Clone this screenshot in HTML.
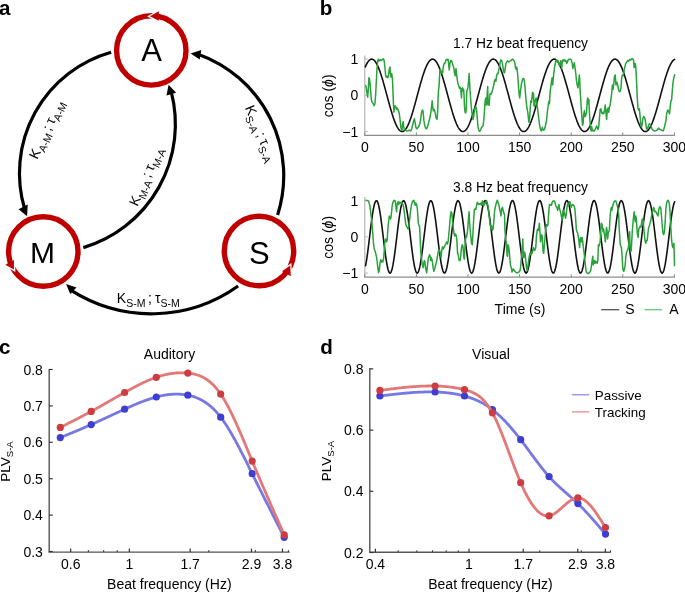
<!DOCTYPE html>
<html><head><meta charset="utf-8"><title>figure</title>
<style>
html,body{margin:0;padding:0;background:#fff;width:685px;height:592px;overflow:hidden}
svg{display:block;will-change:transform}
text{font-family:"Liberation Sans",sans-serif;fill:#000}
</style></head><body>
<svg width="685" height="592" viewBox="0 0 685 592">
<text x="-1.1" y="14.5" font-size="20.6" font-weight="bold">a</text>
<text x="319.7" y="14.5" font-size="20.6" font-weight="bold">b</text>
<text x="-0.9" y="353.7" font-size="20.6" font-weight="bold">c</text>
<text x="320.3" y="353.7" font-size="20.6" font-weight="bold">d</text>
<circle cx="151.3" cy="50.4" r="34.7" fill="none" stroke="#c00000" stroke-width="5.4"/>
<circle cx="43.3" cy="251.5" r="34.7" fill="none" stroke="#c00000" stroke-width="5.4"/>
<circle cx="259.0" cy="251.0" r="34.7" fill="none" stroke="#c00000" stroke-width="5.4"/>
<polygon points="147.10,16.41 156.00,11.31 156.00,20.81" fill="#fff"/>
<polygon points="149.9,16.3 158.8,11.2 158.8,20.7" fill="#c00000"/>
<polygon points="15.33,272.01 6.73,267.11 15.33,262.41" fill="#fff"/>
<polygon points="13.9,269.6 5.3,264.7 13.9,260.0" fill="#c00000"/>
<polygon points="291.36,263.05 283.26,268.75 291.96,273.75" fill="#fff"/>
<polygon points="290.2,265.6 282.1,271.3 290.8,276.3" fill="#c00000"/>
<text x="151.5" y="60.7" font-size="31" text-anchor="middle">A</text>
<text x="42.5" y="263.3" font-size="30" text-anchor="middle">M</text>
<text x="259.4" y="263.6" font-size="31" text-anchor="middle">S</text>
<path d="M111.10,52.23 A125.65,125.65 0 0 0 24.69,209.06" fill="none" stroke="#000" stroke-width="3.2"/>
<polygon points="27.1,216.2 18.6,209.2 27.7,204.6" fill="#000"/>
<path d="M277.62,214.98 A129.10,129.10 0 0 0 198.13,54.16" fill="none" stroke="#000" stroke-width="3.2"/>
<polygon points="190.6,53.4 201.3,50.0 199.7,59.6" fill="#000"/>
<path d="M238.13,285.99 A149.29,149.29 0 0 1 70.82,290.21" fill="none" stroke="#000" stroke-width="3.2"/>
<polygon points="66.1,284.1 76.5,287.4 70.2,294.1" fill="#000"/>
<path d="M83.33,247.60 A128.75,128.75 0 0 0 171.20,91.62" fill="none" stroke="#000" stroke-width="3.2"/>
<polygon points="168.6,84.8 166.5,95.5 176.1,92.7" fill="#000"/>
<text transform="translate(37.3,159.9) rotate(-65)" font-size="14">K<tspan font-size="10.5" dy="4.0">A-M</tspan><tspan dy="-4.0" dx="-1.3"> ; </tspan><tspan dx="-0.7">τ</tspan><tspan font-size="10.5" dy="4.0">A-M</tspan></text>
<text transform="translate(137.5,207.0) rotate(-66.5)" font-size="14">K<tspan font-size="10.5" dy="4.0">M-A</tspan><tspan dy="-4.0" dx="-1.3"> ; </tspan><tspan dx="-0.7">τ</tspan><tspan font-size="10.5" dy="4.0">M-A</tspan></text>
<text transform="translate(244.8,107.7) rotate(67)" font-size="14">K<tspan font-size="10.5" dy="4.0">S-A</tspan><tspan dy="-4.0" dx="-1.3"> ; </tspan><tspan dx="-0.7">τ</tspan><tspan font-size="10.5" dy="4.0">S-A</tspan></text>
<text transform="translate(116.8,303.0) rotate(0)" font-size="14">K<tspan font-size="10.5" dy="4.0">S-M</tspan><tspan dy="-4.0" dx="-1.3"> ; </tspan><tspan dx="-0.7">τ</tspan><tspan font-size="10.5" dy="4.0">S-M</tspan></text>
<line x1="364.8" y1="55.5" x2="364.8" y2="135.3" stroke="#b4b4b4" stroke-width="1.2"/>
<line x1="364.2" y1="135.3" x2="674.9" y2="135.3" stroke="#8c8c8c" stroke-width="1.2"/>
<line x1="364.80" y1="135.3" x2="364.80" y2="132.3" stroke="#8c8c8c" stroke-width="1"/>
<text x="364.80" y="151.70" font-size="14" text-anchor="middle">0</text>
<line x1="416.40" y1="135.3" x2="416.40" y2="132.3" stroke="#8c8c8c" stroke-width="1"/>
<text x="416.40" y="151.70" font-size="14" text-anchor="middle">50</text>
<line x1="468.00" y1="135.3" x2="468.00" y2="132.3" stroke="#8c8c8c" stroke-width="1"/>
<text x="468.00" y="151.70" font-size="14" text-anchor="middle">100</text>
<line x1="519.60" y1="135.3" x2="519.60" y2="132.3" stroke="#8c8c8c" stroke-width="1"/>
<text x="519.60" y="151.70" font-size="14" text-anchor="middle">150</text>
<line x1="571.20" y1="135.3" x2="571.20" y2="132.3" stroke="#8c8c8c" stroke-width="1"/>
<text x="571.20" y="151.70" font-size="14" text-anchor="middle">200</text>
<line x1="622.80" y1="135.3" x2="622.80" y2="132.3" stroke="#8c8c8c" stroke-width="1"/>
<text x="622.80" y="151.70" font-size="14" text-anchor="middle">250</text>
<line x1="674.40" y1="135.3" x2="674.40" y2="132.3" stroke="#8c8c8c" stroke-width="1"/>
<text x="674.40" y="151.70" font-size="14" text-anchor="middle">300</text>
<line x1="364.8" y1="59.15" x2="367.8" y2="59.15" stroke="#b4b4b4" stroke-width="1"/>
<text x="358.3" y="64.15" font-size="14" text-anchor="end">1</text>
<line x1="364.8" y1="95.35" x2="367.8" y2="95.35" stroke="#b4b4b4" stroke-width="1"/>
<text x="358.3" y="100.35" font-size="14" text-anchor="end">0</text>
<line x1="364.8" y1="131.55" x2="367.8" y2="131.55" stroke="#b4b4b4" stroke-width="1"/>
<text x="358.3" y="136.55" font-size="14" text-anchor="end">−1</text>
<text x="520.5" y="48.4" font-size="13.8" text-anchor="middle">1.7 Hz beat frequency</text>
<text transform="translate(333.3,95.85) rotate(-90)" font-size="14" text-anchor="middle">cos (<tspan font-style="italic">ϕ</tspan>)</text>
<path d="M365.30,66.83 L365.74,65.84 L366.18,64.91 L366.63,64.05 L367.07,63.25 L367.51,62.52 L367.95,61.85 L368.40,61.26 L368.84,60.74 L369.28,60.29 L369.72,59.92 L370.17,59.61 L370.61,59.39 L371.05,59.24 L371.49,59.16 L371.94,59.16 L372.38,59.23 L372.82,59.38 L373.26,59.61 L373.71,59.91 L374.15,60.28 L374.59,60.73 L375.03,61.25 L375.48,61.84 L375.92,62.51 L376.36,63.24 L376.80,64.03 L377.25,64.89 L377.69,65.82 L378.13,66.81 L378.57,67.86 L379.02,68.96 L379.46,70.12 L379.90,71.33 L380.34,72.60 L380.79,73.91 L381.23,75.26 L381.67,76.66 L382.11,78.10 L382.56,79.57 L383.00,81.08 L383.44,82.61 L383.88,84.17 L384.33,85.76 L384.77,87.36 L385.21,88.99 L385.65,90.62 L386.10,92.27 L386.54,93.92 L386.98,95.57 L387.42,97.23 L387.87,98.88 L388.31,100.52 L388.75,102.15 L389.19,103.77 L389.64,105.37 L390.08,106.95 L390.52,108.50 L390.96,110.03 L391.41,111.53 L391.85,112.99 L392.29,114.42 L392.73,115.81 L393.18,117.15 L393.62,118.45 L394.06,119.70 L394.50,120.90 L394.95,122.04 L395.39,123.13 L395.83,124.16 L396.27,125.13 L396.72,126.04 L397.16,126.89 L397.60,127.67 L398.04,128.38 L398.49,129.02 L398.93,129.59 L399.37,130.09 L399.81,130.52 L400.26,130.88 L400.70,131.16 L401.14,131.36 L401.58,131.49 L402.03,131.55 L402.47,131.53 L402.91,131.43 L403.35,131.26 L403.80,131.01 L404.24,130.69 L404.68,130.29 L405.12,129.83 L405.57,129.29 L406.01,128.67 L406.45,127.99 L406.89,127.24 L407.34,126.43 L407.78,125.55 L408.22,124.60 L408.66,123.60 L409.11,122.53 L409.55,121.41 L409.99,120.24 L410.43,119.01 L410.88,117.73 L411.32,116.41 L411.76,115.04 L412.20,113.63 L412.65,112.18 L413.09,110.70 L413.53,109.19 L413.97,107.64 L414.42,106.08 L414.86,104.48 L415.30,102.87 L415.74,101.25 L416.19,99.61 L416.63,97.96 L417.07,96.31 L417.51,94.65 L417.96,93.00 L418.40,91.35 L418.84,89.71 L419.28,88.08 L419.73,86.47 L420.17,84.87 L420.61,83.30 L421.05,81.75 L421.50,80.24 L421.94,78.75 L422.38,77.29 L422.82,75.88 L423.27,74.51 L423.71,73.17 L424.15,71.89 L424.59,70.65 L425.04,69.47 L425.48,68.34 L425.92,67.27 L426.36,66.25 L426.81,65.30 L427.25,64.41 L427.69,63.58 L428.13,62.82 L428.58,62.13 L429.02,61.51 L429.46,60.95 L429.90,60.47 L430.35,60.07 L430.79,59.73 L431.23,59.48 L431.67,59.29 L432.12,59.18 L432.56,59.15 L433.00,59.19 L433.44,59.31 L433.89,59.50 L434.33,59.77 L434.77,60.12 L435.21,60.53 L435.66,61.02 L436.10,61.58 L436.54,62.21 L436.98,62.92 L437.43,63.68 L437.87,64.52 L438.31,65.42 L438.75,66.38 L439.20,67.40 L439.64,68.48 L440.08,69.62 L440.52,70.81 L440.97,72.05 L441.41,73.34 L441.85,74.68 L442.29,76.06 L442.74,77.48 L443.18,78.94 L443.62,80.43 L444.06,81.95 L444.51,83.50 L444.95,85.08 L445.39,86.68 L445.83,88.29 L446.28,89.92 L446.72,91.56 L447.16,93.21 L447.60,94.87 L448.05,96.52 L448.49,98.17 L448.93,99.82 L449.37,101.46 L449.82,103.08 L450.26,104.69 L450.70,106.28 L451.14,107.84 L451.59,109.38 L452.03,110.89 L452.47,112.37 L452.91,113.81 L453.36,115.22 L453.80,116.58 L454.24,117.90 L454.68,119.17 L455.13,120.39 L455.57,121.56 L456.01,122.67 L456.45,123.73 L456.90,124.73 L457.34,125.66 L457.78,126.54 L458.22,127.34 L458.67,128.08 L459.11,128.76 L459.55,129.36 L459.99,129.89 L460.44,130.35 L460.88,130.74 L461.32,131.05 L461.76,131.28 L462.21,131.45 L462.65,131.53 L463.09,131.55 L463.53,131.48 L463.98,131.34 L464.42,131.13 L464.86,130.84 L465.30,130.47 L465.75,130.03 L466.19,129.52 L466.63,128.94 L467.07,128.29 L467.52,127.57 L467.96,126.78 L468.40,125.93 L468.84,125.01 L469.28,124.03 L469.73,122.99 L470.17,121.90 L470.61,120.74 L471.05,119.54 L471.50,118.28 L471.94,116.98 L472.38,115.63 L472.82,114.24 L473.27,112.81 L473.71,111.34 L474.15,109.84 L474.59,108.31 L475.04,106.75 L475.48,105.17 L475.92,103.56 L476.36,101.94 L476.81,100.31 L477.25,98.67 L477.69,97.01 L478.13,95.36 L478.58,93.71 L479.02,92.05 L479.46,90.41 L479.90,88.78 L480.35,87.16 L480.79,85.55 L481.23,83.97 L481.67,82.41 L482.12,80.88 L482.56,79.38 L483.00,77.91 L483.44,76.48 L483.89,75.09 L484.33,73.74 L484.77,72.43 L485.21,71.18 L485.66,69.97 L486.10,68.82 L486.54,67.72 L486.98,66.68 L487.43,65.70 L487.87,64.78 L488.31,63.93 L488.75,63.14 L489.20,62.42 L489.64,61.76 L490.08,61.18 L490.52,60.67 L490.97,60.23 L491.41,59.87 L491.85,59.58 L492.29,59.36 L492.74,59.22 L493.18,59.15 L493.62,59.17 L494.06,59.25 L494.51,59.41 L494.95,59.65 L495.39,59.96 L495.83,60.35 L496.28,60.80 L496.72,61.33 L497.16,61.94 L497.60,62.61 L498.05,63.35 L498.49,64.15 L498.93,65.03 L499.37,65.96 L499.82,66.96 L500.26,68.01 L500.70,69.13 L501.14,70.30 L501.59,71.52 L502.03,72.79 L502.47,74.10 L502.91,75.46 L503.36,76.87 L503.80,78.31 L504.24,79.79 L504.68,81.30 L505.13,82.84 L505.57,84.40 L506.01,85.99 L506.45,87.60 L506.90,89.22 L507.34,90.86 L507.78,92.51 L508.22,94.16 L508.67,95.81 L509.11,97.47 L509.55,99.12 L509.99,100.76 L510.44,102.39 L510.88,104.00 L511.32,105.60 L511.76,107.18 L512.21,108.73 L512.65,110.25 L513.09,111.75 L513.53,113.20 L513.98,114.62 L514.42,116.00 L514.86,117.34 L515.30,118.63 L515.75,119.87 L516.19,121.07 L516.63,122.20 L517.07,123.29 L517.52,124.31 L517.96,125.27 L518.40,126.17 L518.84,127.01 L519.29,127.78 L519.73,128.48 L520.17,129.11 L520.61,129.67 L521.06,130.16 L521.50,130.58 L521.94,130.92 L522.38,131.19 L522.83,131.39 L523.27,131.51 L523.71,131.55 L524.15,131.52 L524.60,131.41 L525.04,131.23 L525.48,130.97 L525.92,130.64 L526.37,130.23 L526.81,129.75 L527.25,129.20 L527.69,128.58 L528.14,127.89 L528.58,127.13 L529.02,126.30 L529.46,125.41 L529.91,124.46 L530.35,123.45 L530.79,122.37 L531.23,121.24 L531.68,120.06 L532.12,118.83 L532.56,117.54 L533.00,116.21 L533.45,114.84 L533.89,113.42 L534.33,111.97 L534.77,110.48 L535.22,108.96 L535.66,107.42 L536.10,105.84 L536.54,104.25 L536.99,102.64 L537.43,101.01 L537.87,99.37 L538.31,97.72 L538.76,96.07 L539.20,94.41 L539.64,92.76 L540.08,91.11 L540.53,89.47 L540.97,87.85 L541.41,86.24 L541.85,84.64 L542.30,83.07 L542.74,81.53 L543.18,80.02 L543.62,78.53 L544.07,77.09 L544.51,75.68 L544.95,74.31 L545.39,72.98 L545.84,71.71 L546.28,70.48 L546.72,69.30 L547.16,68.18 L547.61,67.12 L548.05,66.11 L548.49,65.16 L548.93,64.28 L549.38,63.47 L549.82,62.72 L550.26,62.03 L550.70,61.42 L551.15,60.88 L551.59,60.41 L552.03,60.01 L552.47,59.69 L552.92,59.44 L553.36,59.27 L553.80,59.17 L554.24,59.15 L554.69,59.21 L555.13,59.33 L555.57,59.54 L556.01,59.82 L556.46,60.17 L556.90,60.60 L557.34,61.10 L557.78,61.67 L558.23,62.31 L558.67,63.02 L559.11,63.80 L559.55,64.65 L560.00,65.55 L560.44,66.52 L560.88,67.56 L561.32,68.64 L561.77,69.79 L562.21,70.99 L562.65,72.24 L563.09,73.53 L563.54,74.88 L563.98,76.26 L564.42,77.69 L564.86,79.15 L565.31,80.65 L565.75,82.18 L566.19,83.73 L566.63,85.31 L567.08,86.91 L567.52,88.53 L567.96,90.16 L568.40,91.80 L568.85,93.45 L569.29,95.11 L569.73,96.76 L570.17,98.41 L570.62,100.06 L571.06,101.69 L571.50,103.32 L571.94,104.92 L572.38,106.51 L572.83,108.07 L573.27,109.61 L573.71,111.11 L574.15,112.58 L574.60,114.02 L575.04,115.42 L575.48,116.78 L575.92,118.09 L576.37,119.35 L576.81,120.56 L577.25,121.72 L577.69,122.83 L578.14,123.88 L578.58,124.87 L579.02,125.79 L579.46,126.66 L579.91,127.46 L580.35,128.19 L580.79,128.85 L581.23,129.44 L581.68,129.96 L582.12,130.41 L582.56,130.79 L583.00,131.09 L583.45,131.31 L583.89,131.46 L584.33,131.54 L584.77,131.54 L585.22,131.47 L585.66,131.31 L586.10,131.09 L586.54,130.79 L586.99,130.41 L587.43,129.96 L587.87,129.44 L588.31,128.85 L588.76,128.19 L589.20,127.46 L589.64,126.66 L590.08,125.80 L590.53,124.87 L590.97,123.89 L591.41,122.84 L591.85,121.73 L592.30,120.57 L592.74,119.36 L593.18,118.10 L593.62,116.78 L594.07,115.43 L594.51,114.03 L594.95,112.60 L595.39,111.12 L595.84,109.62 L596.28,108.08 L596.72,106.52 L597.16,104.93 L597.61,103.33 L598.05,101.71 L598.49,100.07 L598.93,98.43 L599.38,96.77 L599.82,95.12 L600.26,93.46 L600.70,91.81 L601.15,90.17 L601.59,88.54 L602.03,86.92 L602.47,85.32 L602.92,83.74 L603.36,82.19 L603.80,80.66 L604.24,79.16 L604.69,77.70 L605.13,76.27 L605.57,74.89 L606.01,73.54 L606.46,72.25 L606.90,71.00 L607.34,69.80 L607.78,68.65 L608.23,67.56 L608.67,66.53 L609.11,65.56 L609.55,64.65 L610.00,63.81 L610.44,63.03 L610.88,62.32 L611.32,61.67 L611.77,61.10 L612.21,60.60 L612.65,60.17 L613.09,59.82 L613.54,59.54 L613.98,59.34 L614.42,59.21 L614.86,59.15 L615.31,59.17 L615.75,59.27 L616.19,59.44 L616.63,59.69 L617.08,60.01 L617.52,60.41 L617.96,60.88 L618.40,61.42 L618.85,62.03 L619.29,62.71 L619.73,63.46 L620.17,64.28 L620.62,65.16 L621.06,66.10 L621.50,67.11 L621.94,68.17 L622.39,69.29 L622.83,70.47 L623.27,71.70 L623.71,72.97 L624.16,74.30 L624.60,75.67 L625.04,77.08 L625.48,78.52 L625.93,80.01 L626.37,81.52 L626.81,83.06 L627.25,84.63 L627.70,86.22 L628.14,87.84 L628.58,89.46 L629.02,91.10 L629.47,92.75 L629.91,94.40 L630.35,96.06 L630.79,97.71 L631.24,99.36 L631.68,101.00 L632.12,102.63 L632.56,104.24 L633.01,105.83 L633.45,107.41 L633.89,108.95 L634.33,110.47 L634.78,111.96 L635.22,113.41 L635.66,114.83 L636.10,116.20 L636.55,117.53 L636.99,118.82 L637.43,120.05 L637.87,121.24 L638.32,122.37 L638.76,123.44 L639.20,124.45 L639.64,125.41 L640.09,126.30 L640.53,127.12 L640.97,127.88 L641.41,128.57 L641.86,129.20 L642.30,129.75 L642.74,130.23 L643.18,130.63 L643.63,130.97 L644.07,131.23 L644.51,131.41 L644.95,131.52 L645.40,131.55 L645.84,131.51 L646.28,131.39 L646.72,131.19 L647.17,130.93 L647.61,130.58 L648.05,130.17 L648.49,129.68 L648.94,129.11 L649.38,128.48 L649.82,127.78 L650.26,127.01 L650.71,126.18 L651.15,125.28 L651.59,124.32 L652.03,123.29 L652.48,122.21 L652.92,121.07 L653.36,119.88 L653.80,118.64 L654.25,117.35 L654.69,116.01 L655.13,114.63 L655.57,113.21 L656.02,111.76 L656.46,110.26 L656.90,108.74 L657.34,107.19 L657.79,105.61 L658.23,104.02 L658.67,102.40 L659.11,100.77 L659.56,99.13 L660.00,97.48 L660.44,95.83 L660.88,94.17 L661.33,92.52 L661.77,90.87 L662.21,89.23 L662.65,87.61 L663.10,86.00 L663.54,84.41 L663.98,82.85 L664.42,81.31 L664.87,79.80 L665.31,78.32 L665.75,76.88 L666.19,75.47 L666.64,74.11 L667.08,72.79 L667.52,71.52 L667.96,70.30 L668.41,69.14 L668.85,68.02 L669.29,66.97 L669.73,65.97 L670.18,65.03 L670.62,64.16 L671.06,63.35 L671.50,62.61 L671.95,61.94 L672.39,61.34 L672.83,60.81 L673.27,60.35 L673.72,59.96 L674.16,59.65 L674.60,59.41" fill="none" stroke="#111" stroke-width="1.6" stroke-linecap="round"/>
<path d="M365.59,85.00 L366.30,87.87 L367.02,93.61 L367.74,97.19 L368.46,86.43 L368.89,77.82 L369.46,78.54 L370.03,83.56 L370.61,90.74 L371.33,99.35 L372.04,102.22 L373.19,103.65 L374.20,105.80 L374.91,103.65 L375.63,95.04 L376.35,80.69 L377.06,67.78 L377.78,60.61 L378.50,59.17 L379.22,60.90 L380.36,59.89 L381.37,60.61 L382.37,59.46 L383.52,58.89 L384.24,61.33 L384.96,67.78 L385.67,75.67 L386.39,77.11 L387.11,76.39 L387.82,77.82 L388.54,74.96 L389.26,69.22 L389.98,67.06 L390.41,73.52 L390.98,77.11 L391.70,73.52 L392.42,78.54 L392.85,87.87 L393.28,99.35 L393.85,112.26 L394.42,107.95 L395.00,105.80 L395.72,106.52 L396.43,109.39 L397.15,107.95 L397.87,109.39 L398.59,110.82 L399.30,113.69 L400.02,119.43 L400.74,126.61 L401.45,129.47 L402.01,130.23 L402.58,123.77 L403.16,121.61 L403.73,126.64 L404.31,129.51 L405.45,130.23 L406.46,130.94 L407.89,130.66 L409.33,130.23 L410.77,130.94 L411.77,128.79 L412.63,125.20 L413.64,120.90 L414.35,118.74 L415.07,122.33 L415.79,126.64 L416.51,128.79 L417.51,128.07 L418.66,126.64 L419.81,123.77 L420.81,118.03 L421.53,112.28 L422.25,110.13 L422.97,110.85 L423.40,115.15 L423.97,120.90 L424.69,125.20 L425.55,128.07 L426.55,128.79 L427.56,126.64 L428.71,122.33 L429.86,118.03 L430.86,112.28 L431.58,106.54 L432.15,100.80 L432.73,106.54 L433.30,110.85 L434.16,109.41 L434.88,111.57 L435.60,115.15 L436.17,118.03 L437.03,119.46 L437.61,112.28 L438.04,99.37 L438.47,90.75 L439.04,86.45 L439.47,77.84 L439.90,70.66 L440.48,69.22 L441.19,72.09 L441.91,73.53 L442.63,72.81 L443.35,66.35 L444.21,63.48 L445.21,62.77 L445.93,59.89 L446.65,59.18 L447.37,59.89 L448.08,59.18 L448.80,65.64 L449.23,69.94 L449.95,63.48 L450.52,60.61 L451.39,60.61 L452.39,63.48 L453.11,65.64 L453.83,67.79 L454.54,73.53 L455.26,75.68 L455.98,68.51 L456.70,74.97 L457.41,80.71 L458.13,84.30 L458.85,85.73 L459.57,88.60 L460.02,87.17 L460.74,88.60 L461.46,97.93 L461.89,89.32 L462.46,87.88 L463.04,90.75 L463.61,89.32 L464.04,95.06 L464.47,106.54 L465.05,112.28 L465.77,113.00 L466.20,109.41 L466.77,90.75 L467.34,90.04 L467.92,87.88 L468.64,80.71 L469.07,73.53 L469.50,80.71 L470.07,90.75 L470.79,100.80 L471.51,109.41 L472.22,115.15 L472.94,119.46 L473.66,116.59 L474.38,110.85 L475.09,107.98 L475.81,106.54 L476.53,109.41 L477.25,118.03 L477.97,126.64 L478.68,129.51 L479.40,131.23 L480.12,130.94 L480.84,129.51 L481.55,127.36 L482.27,126.64 L482.99,125.92 L483.71,120.90 L484.42,112.28 L485.14,100.80 L485.86,97.93 L486.29,105.11 L486.86,100.80 L487.30,92.19 L487.73,86.45 L488.01,105.11 L488.59,100.80 L489.16,105.11 L489.74,95.06 L490.31,93.62 L490.88,94.34 L491.60,92.91 L492.32,90.75 L493.04,87.88 L493.75,85.01 L494.47,80.71 L495.19,79.27 L495.91,81.42 L496.62,75.68 L497.34,73.53 L498.06,73.53 L498.78,69.94 L499.50,66.35 L500.21,62.05 L500.93,59.89 L501.65,60.61 L502.37,63.48 L503.08,67.79 L503.80,72.09 L504.52,72.81 L505.24,67.79 L505.95,63.48 L506.67,62.05 L507.39,60.90 L508.11,61.33 L508.83,62.05 L509.54,61.33 L510.26,60.90 L510.98,60.61 L511.70,59.89 L512.41,59.18 L513.13,59.46 L513.85,60.61 L514.74,62.05 L515.45,67.79 L516.03,69.22 L516.75,67.07 L517.46,72.09 L518.04,79.27 L518.61,87.88 L519.19,95.06 L519.76,97.93 L520.33,92.19 L520.91,87.88 L521.48,83.58 L522.20,80.71 L522.92,78.55 L523.64,78.55 L524.35,80.71 L524.93,86.45 L525.50,93.62 L526.08,100.80 L526.94,107.98 L527.80,112.28 L528.37,118.03 L528.95,122.33 L529.52,119.46 L530.09,110.85 L530.81,100.80 L531.53,102.24 L532.25,95.06 L532.68,92.19 L533.11,97.93 L533.54,93.62 L533.97,105.11 L534.40,106.54 L534.97,102.24 L535.55,99.37 L536.12,97.93 L536.70,102.24 L537.27,106.54 L537.99,112.28 L538.71,118.03 L539.42,123.77 L540.14,128.07 L540.86,130.23 L541.58,130.94 L542.30,127.36 L543.01,129.51 L543.73,130.23 L544.45,129.51 L545.17,126.64 L545.88,123.77 L546.60,119.46 L547.32,112.28 L548.04,106.54 L548.75,101.52 L549.47,103.67 L549.90,95.06 L550.48,89.32 L551.05,85.01 L551.62,80.71 L552.06,77.84 L552.63,85.01 L553.06,80.71 L553.78,73.53 L554.50,67.79 L555.21,63.48 L555.93,60.61 L556.65,59.89 L557.37,62.05 L558.08,60.61 L558.80,63.48 L559.52,66.35 L560.24,62.77 L560.95,60.61 L561.67,68.51 L562.10,63.48 L562.82,59.89 L563.83,60.61 L564.54,59.89 L565.26,61.33 L565.98,60.61 L566.70,63.48 L567.41,62.05 L568.13,59.89 L568.85,59.18 L569.31,59.18 L570.74,59.18 L571.46,60.61 L572.18,63.48 L572.89,68.51 L573.61,64.92 L574.33,62.77 L575.05,67.79 L575.77,73.53 L576.48,80.71 L577.20,85.01 L577.92,87.88 L578.64,82.14 L579.35,74.97 L579.78,80.71 L580.21,92.19 L580.79,100.80 L581.36,109.41 L581.94,118.03 L582.51,125.20 L583.09,123.77 L583.66,115.15 L584.38,110.85 L585.09,116.59 L585.81,115.15 L586.53,112.28 L587.25,100.80 L587.68,97.93 L588.25,103.67 L588.83,99.37 L589.40,112.28 L589.97,120.90 L590.55,128.07 L591.12,130.94 L591.70,126.64 L592.27,130.23 L592.99,130.94 L593.71,130.23 L594.42,130.94 L595.14,129.51 L595.86,128.07 L596.58,125.92 L597.30,127.36 L598.01,129.51 L598.73,126.64 L599.45,118.03 L600.17,109.41 L600.88,108.70 L601.60,112.28 L602.32,113.72 L603.04,112.28 L603.75,113.72 L604.47,110.85 L605.19,105.11 L605.91,112.28 L606.62,119.46 L607.34,109.41 L608.06,107.98 L608.78,112.28 L609.50,106.54 L610.21,105.11 L610.93,99.37 L611.65,93.62 L612.37,85.01 L613.08,89.32 L613.80,83.58 L614.52,76.40 L615.24,74.97 L615.95,85.01 L616.67,82.14 L617.39,83.58 L618.11,87.17 L618.83,90.75 L619.54,91.47 L620.26,91.47 L620.98,87.88 L621.70,77.84 L622.41,74.97 L623.13,75.68 L623.85,72.09 L624.57,67.79 L625.02,66.35 L625.74,63.48 L626.46,62.77 L627.18,61.33 L627.89,60.61 L628.61,61.33 L629.33,59.89 L630.05,59.18 L630.77,59.89 L631.48,59.18 L632.20,58.46 L632.92,59.18 L633.64,60.61 L634.07,67.79 L634.64,66.35 L635.21,63.48 L635.79,66.35 L636.22,74.97 L636.79,86.45 L637.22,96.50 L637.94,107.98 L638.66,110.13 L639.38,108.70 L640.09,116.59 L640.81,123.77 L641.53,127.36 L642.25,123.77 L642.97,118.03 L643.68,116.59 L644.40,117.31 L645.12,119.46 L645.84,123.77 L646.55,128.79 L647.27,129.51 L647.99,127.36 L648.71,125.20 L649.42,123.77 L650.14,124.48 L650.86,125.20 L651.58,128.07 L652.30,129.51 L653.01,130.23 L654.45,130.94 L655.88,130.66 L657.03,130.23 L658.04,128.79 L658.75,128.07 L659.47,129.51 L660.48,129.51 L661.62,130.23 L663.06,130.94 L663.78,129.51 L664.50,126.64 L665.21,123.77 L665.93,120.90 L666.65,113.72 L667.37,110.85 L668.08,110.13 L668.80,112.28 L669.52,113.72 L670.24,106.54 L670.95,100.80 L671.67,99.37 L672.39,89.32 L673.11,82.14 L673.83,77.84 L674.54,74.97 L674.83,74.25" fill="none" stroke="#28a23a" stroke-width="1.5" stroke-linejoin="round"/>
<line x1="364.8" y1="197.0" x2="364.8" y2="277.1" stroke="#b4b4b4" stroke-width="1.2"/>
<line x1="364.2" y1="277.1" x2="674.9" y2="277.1" stroke="#8c8c8c" stroke-width="1.2"/>
<line x1="364.80" y1="277.1" x2="364.80" y2="274.1" stroke="#8c8c8c" stroke-width="1"/>
<text x="364.80" y="293.50" font-size="14" text-anchor="middle">0</text>
<line x1="416.40" y1="277.1" x2="416.40" y2="274.1" stroke="#8c8c8c" stroke-width="1"/>
<text x="416.40" y="293.50" font-size="14" text-anchor="middle">50</text>
<line x1="468.00" y1="277.1" x2="468.00" y2="274.1" stroke="#8c8c8c" stroke-width="1"/>
<text x="468.00" y="293.50" font-size="14" text-anchor="middle">100</text>
<line x1="519.60" y1="277.1" x2="519.60" y2="274.1" stroke="#8c8c8c" stroke-width="1"/>
<text x="519.60" y="293.50" font-size="14" text-anchor="middle">150</text>
<line x1="571.20" y1="277.1" x2="571.20" y2="274.1" stroke="#8c8c8c" stroke-width="1"/>
<text x="571.20" y="293.50" font-size="14" text-anchor="middle">200</text>
<line x1="622.80" y1="277.1" x2="622.80" y2="274.1" stroke="#8c8c8c" stroke-width="1"/>
<text x="622.80" y="293.50" font-size="14" text-anchor="middle">250</text>
<line x1="674.40" y1="277.1" x2="674.40" y2="274.1" stroke="#8c8c8c" stroke-width="1"/>
<text x="674.40" y="293.50" font-size="14" text-anchor="middle">300</text>
<line x1="364.8" y1="200.65" x2="367.8" y2="200.65" stroke="#b4b4b4" stroke-width="1"/>
<text x="358.3" y="205.65" font-size="14" text-anchor="end">1</text>
<line x1="364.8" y1="236.85" x2="367.8" y2="236.85" stroke="#b4b4b4" stroke-width="1"/>
<text x="358.3" y="241.85" font-size="14" text-anchor="end">0</text>
<line x1="364.8" y1="273.05" x2="367.8" y2="273.05" stroke="#b4b4b4" stroke-width="1"/>
<text x="358.3" y="278.05" font-size="14" text-anchor="end">−1</text>
<text x="520.5" y="192.2" font-size="13.8" text-anchor="middle">3.8 Hz beat frequency</text>
<text transform="translate(333.3,237.35) rotate(-90)" font-size="14" text-anchor="middle">cos (<tspan font-style="italic">ϕ</tspan>)</text>
<path d="M365.60,265.72 L366.04,263.34 L366.48,260.69 L366.93,257.79 L367.37,254.67 L367.81,251.37 L368.25,247.91 L368.69,244.34 L369.14,240.70 L369.58,237.01 L370.02,233.32 L370.46,229.67 L370.90,226.09 L371.35,222.62 L371.79,219.30 L372.23,216.17 L372.67,213.25 L373.12,210.57 L373.56,208.17 L374.00,206.07 L374.44,204.29 L374.88,202.85 L375.33,201.76 L375.77,201.04 L376.21,200.69 L376.65,200.71 L377.09,201.11 L377.54,201.89 L377.98,203.03 L378.42,204.52 L378.86,206.34 L379.30,208.49 L379.75,210.93 L380.19,213.64 L380.63,216.59 L381.07,219.75 L381.51,223.09 L381.96,226.58 L382.40,230.17 L382.84,233.83 L383.28,237.52 L383.72,241.20 L384.17,244.84 L384.61,248.40 L385.05,251.83 L385.49,255.11 L385.93,258.20 L386.38,261.07 L386.82,263.69 L387.26,266.02 L387.70,268.05 L388.15,269.76 L388.59,271.13 L389.03,272.13 L389.47,272.78 L389.91,273.04 L390.36,272.93 L390.80,272.45 L391.24,271.59 L391.68,270.37 L392.12,268.80 L392.57,266.90 L393.01,264.69 L393.45,262.19 L393.89,259.42 L394.33,256.42 L394.78,253.22 L395.22,249.84 L395.66,246.33 L396.10,242.72 L396.54,239.05 L396.99,235.36 L397.43,231.68 L397.87,228.05 L398.31,224.52 L398.75,221.12 L399.20,217.88 L399.64,214.83 L400.08,212.02 L400.52,209.47 L400.96,207.20 L401.41,205.23 L401.85,203.60 L402.29,202.32 L402.73,201.39 L403.18,200.83 L403.62,200.65 L404.06,200.84 L404.50,201.41 L404.94,202.35 L405.39,203.65 L405.83,205.29 L406.27,207.26 L406.71,209.54 L407.15,212.11 L407.60,214.93 L408.04,217.98 L408.48,221.23 L408.92,224.63 L409.36,228.17 L409.81,231.80 L410.25,235.48 L410.69,239.17 L411.13,242.84 L411.57,246.45 L412.02,249.95 L412.46,253.32 L412.90,256.52 L413.34,259.52 L413.78,262.27 L414.23,264.77 L414.67,266.97 L415.11,268.86 L415.55,270.42 L415.99,271.62 L416.44,272.47 L416.88,272.94 L417.32,273.04 L417.76,272.76 L418.21,272.11 L418.65,271.09 L419.09,269.71 L419.53,267.99 L419.97,265.95 L420.42,263.61 L420.86,260.98 L421.30,258.11 L421.74,255.01 L422.18,251.72 L422.63,248.28 L423.07,244.73 L423.51,241.08 L423.95,237.40 L424.39,233.71 L424.84,230.05 L425.28,226.46 L425.72,222.98 L426.16,219.65 L426.60,216.49 L427.05,213.55 L427.49,210.84 L427.93,208.41 L428.37,206.28 L428.81,204.46 L429.26,202.98 L429.70,201.86 L430.14,201.09 L430.58,200.70 L431.02,200.69 L431.47,201.05 L431.91,201.79 L432.35,202.89 L432.79,204.34 L433.24,206.14 L433.68,208.25 L434.12,210.66 L434.56,213.34 L435.00,216.27 L435.45,219.41 L435.89,222.73 L436.33,226.20 L436.77,229.78 L437.21,233.44 L437.66,237.13 L438.10,240.82 L438.54,244.46 L438.98,248.03 L439.42,251.48 L439.87,254.78 L440.31,257.89 L440.75,260.78 L441.19,263.42 L441.63,265.79 L442.08,267.86 L442.52,269.60 L442.96,271.00 L443.40,272.05 L443.84,272.73 L444.29,273.03 L444.73,272.96 L445.17,272.51 L445.61,271.70 L446.05,270.52 L446.50,268.99 L446.94,267.12 L447.38,264.94 L447.82,262.47 L448.27,259.73 L448.71,256.75 L449.15,253.56 L449.59,250.20 L450.03,246.70 L450.48,243.10 L450.92,239.44 L451.36,235.75 L451.80,232.06 L452.24,228.43 L452.69,224.89 L453.13,221.47 L453.57,218.21 L454.01,215.14 L454.45,212.31 L454.90,209.72 L455.34,207.42 L455.78,205.43 L456.22,203.76 L456.66,202.44 L457.11,201.47 L457.55,200.87 L457.99,200.65 L458.43,200.81 L458.87,201.34 L459.32,202.24 L459.76,203.50 L460.20,205.10 L460.64,207.04 L461.08,209.29 L461.53,211.83 L461.97,214.62 L462.41,217.65 L462.85,220.88 L463.30,224.27 L463.74,227.79 L464.18,231.41 L464.62,235.09 L465.06,238.78 L465.51,242.45 L465.95,246.07 L466.39,249.59 L466.83,252.97 L467.27,256.19 L467.72,259.21 L468.16,262.00 L468.60,264.52 L469.04,266.75 L469.48,268.68 L469.93,270.27 L470.37,271.51 L470.81,272.40 L471.25,272.91 L471.69,273.05 L472.14,272.81 L472.58,272.19 L473.02,271.21 L473.46,269.87 L473.90,268.19 L474.35,266.18 L474.79,263.87 L475.23,261.27 L475.67,258.42 L476.12,255.35 L476.56,252.08 L477.00,248.65 L477.44,245.10 L477.88,241.47 L478.33,237.79 L478.77,234.10 L479.21,230.43 L479.65,226.83 L480.09,223.34 L480.54,219.99 L480.98,216.81 L481.42,213.85 L481.86,211.12 L482.30,208.66 L482.75,206.49 L483.19,204.64 L483.63,203.12 L484.07,201.96 L484.51,201.16 L484.96,200.73 L485.40,200.67 L485.84,201.00 L486.28,201.69 L486.72,202.76 L487.17,204.17 L487.61,205.93 L488.05,208.01 L488.49,210.39 L488.93,213.05 L489.38,215.95 L489.82,219.07 L490.26,222.37 L490.70,225.83 L491.15,229.40 L491.59,233.05 L492.03,236.74 L492.47,240.43 L492.91,244.08 L493.36,247.66 L493.80,251.12 L494.24,254.44 L494.68,257.57 L495.12,260.49 L495.57,263.16 L496.01,265.55 L496.45,267.65 L496.89,269.43 L497.33,270.87 L497.78,271.95 L498.22,272.67 L498.66,273.02 L499.10,272.99 L499.54,272.58 L499.99,271.80 L500.43,270.66 L500.87,269.16 L501.31,267.33 L501.75,265.18 L502.20,262.74 L502.64,260.03 L503.08,257.07 L503.52,253.91 L503.96,250.56 L504.41,247.08 L504.85,243.49 L505.29,239.83 L505.73,236.13 L506.18,232.45 L506.62,228.81 L507.06,225.26 L507.50,221.82 L507.94,218.55 L508.39,215.46 L508.83,212.59 L509.27,209.98 L509.71,207.65 L510.15,205.62 L510.60,203.92 L511.04,202.56 L511.48,201.55 L511.92,200.92 L512.36,200.66 L512.81,200.77 L513.25,201.26 L513.69,202.12 L514.13,203.35 L514.57,204.92 L515.02,206.82 L515.46,209.04 L515.90,211.55 L516.34,214.31 L516.78,217.32 L517.23,220.53 L517.67,223.90 L518.11,227.42 L518.55,231.03 L518.99,234.70 L519.44,238.39 L519.88,242.07 L520.32,245.69 L520.76,249.22 L521.21,252.62 L521.65,255.86 L522.09,258.90 L522.53,261.71 L522.97,264.27 L523.42,266.53 L523.86,268.49 L524.30,270.12 L524.74,271.40 L525.18,272.32 L525.63,272.87 L526.07,273.05 L526.51,272.85 L526.95,272.28 L527.39,271.33 L527.84,270.03 L528.28,268.38 L528.72,266.41 L529.16,264.12 L529.60,261.56 L530.05,258.73 L530.49,255.68 L530.93,252.43 L531.37,249.02 L531.81,245.48 L532.26,241.86 L532.70,238.18 L533.14,234.48 L533.58,230.82 L534.02,227.21 L534.47,223.70 L534.91,220.34 L535.35,217.14 L535.79,214.15 L536.24,211.39 L536.68,208.90 L537.12,206.70 L537.56,204.82 L538.00,203.27 L538.45,202.06 L538.89,201.22 L539.33,200.76 L539.77,200.66 L540.21,200.95 L540.66,201.60 L541.10,202.63 L541.54,204.01 L541.98,205.73 L542.42,207.78 L542.87,210.13 L543.31,212.75 L543.75,215.63 L544.19,218.73 L544.63,222.02 L545.08,225.46 L545.52,229.02 L545.96,232.66 L546.40,236.35 L546.84,240.04 L547.29,243.70 L547.73,247.28 L548.17,250.76 L548.61,254.10 L549.05,257.25 L549.50,260.19 L549.94,262.89 L550.38,265.32 L550.82,267.45 L551.27,269.26 L551.71,270.73 L552.15,271.86 L552.59,272.61 L553.03,273.00 L553.48,273.01 L553.92,272.64 L554.36,271.90 L554.80,270.79 L555.24,269.34 L555.69,267.54 L556.13,265.42 L556.57,263.01 L557.01,260.32 L557.45,257.39 L557.90,254.25 L558.34,250.92 L558.78,247.45 L559.22,243.87 L559.66,240.21 L560.11,236.52 L560.55,232.84 L560.99,229.19 L561.43,225.63 L561.87,222.18 L562.32,218.88 L562.76,215.77 L563.20,212.88 L563.64,210.24 L564.08,207.88 L564.53,205.82 L564.97,204.08 L565.41,202.68 L565.85,201.64 L566.30,200.97 L566.74,200.67 L567.18,200.74 L567.62,201.19 L568.06,202.02 L568.51,203.20 L568.95,204.74 L569.39,206.61 L569.83,208.79 L570.27,211.27 L570.72,214.01 L571.16,216.99 L571.60,220.18 L572.04,223.54 L572.48,227.04 L572.93,230.64 L573.37,234.31 L573.81,238.00 L574.25,241.68 L574.69,245.31 L575.14,248.86 L575.58,252.27 L576.02,255.53 L576.46,258.59 L576.90,261.43 L577.35,264.01 L577.79,266.31 L578.23,268.30 L578.67,269.96 L579.12,271.28 L579.56,272.24 L580.00,272.83 L580.44,273.05 L580.88,272.89 L581.33,272.35 L581.77,271.45 L582.21,270.19 L582.65,268.57 L583.09,266.63 L583.54,264.38 L583.98,261.84 L584.42,259.04 L584.86,256.01 L585.30,252.78 L585.75,249.39 L586.19,245.86 L586.63,242.24 L587.07,238.57 L587.51,234.87 L587.96,231.20 L588.40,227.59 L588.84,224.07 L589.28,220.68 L589.72,217.47 L590.17,214.45 L590.61,211.67 L591.05,209.15 L591.49,206.92 L591.93,205.00 L592.38,203.41 L592.82,202.17 L593.26,201.30 L593.70,200.79 L594.15,200.65 L594.59,200.90 L595.03,201.52 L595.47,202.50 L595.91,203.85 L596.36,205.53 L596.80,207.55 L597.24,209.86 L597.68,212.46 L598.12,215.32 L598.57,218.39 L599.01,221.66 L599.45,225.09 L599.89,228.64 L600.33,232.28 L600.78,235.96 L601.22,239.65 L601.66,243.32 L602.10,246.91 L602.54,250.40 L602.99,253.75 L603.43,256.93 L603.87,259.89 L604.31,262.62 L604.75,265.07 L605.20,267.24 L605.64,269.08 L606.08,270.59 L606.52,271.75 L606.96,272.55 L607.41,272.98 L607.85,273.02 L608.29,272.70 L608.73,272.00 L609.18,270.93 L609.62,269.51 L610.06,267.74 L610.50,265.66 L610.94,263.28 L611.39,260.62 L611.83,257.71 L612.27,254.59 L612.71,251.28 L613.15,247.82 L613.60,244.25 L614.04,240.60 L614.48,236.91 L614.92,233.22 L615.36,229.57 L615.81,226.00 L616.25,222.54 L616.69,219.22 L617.13,216.09 L617.57,213.18 L618.02,210.51 L618.46,208.12 L618.90,206.02 L619.34,204.25 L619.78,202.82 L620.23,201.74 L620.67,201.02 L621.11,200.68 L621.55,200.72 L621.99,201.13 L622.44,201.91 L622.88,203.06 L623.32,204.56 L623.76,206.39 L624.21,208.55 L624.65,210.99 L625.09,213.71 L625.53,216.67 L625.97,219.83 L626.42,223.18 L626.86,226.67 L627.30,230.26 L627.74,233.92 L628.18,237.61 L628.63,241.30 L629.07,244.93 L629.51,248.49 L629.95,251.92 L630.39,255.20 L630.84,258.28 L631.28,261.14 L631.72,263.75 L632.16,266.08 L632.60,268.10 L633.05,269.80 L633.49,271.16 L633.93,272.16 L634.37,272.79 L634.81,273.04 L635.26,272.92 L635.70,272.43 L636.14,271.56 L636.58,270.34 L637.02,268.76 L637.47,266.85 L637.91,264.63 L638.35,262.12 L638.79,259.35 L639.24,256.34 L639.68,253.13 L640.12,249.75 L640.56,246.24 L641.00,242.63 L641.45,238.96 L641.89,235.26 L642.33,231.58 L642.77,227.96 L643.21,224.43 L643.66,221.03 L644.10,217.80 L644.54,214.76 L644.98,211.95 L645.42,209.40 L645.87,207.14 L646.31,205.19 L646.75,203.56 L647.19,202.29 L647.63,201.37 L648.08,200.82 L648.52,200.65 L648.96,200.85 L649.40,201.43 L649.84,202.38 L650.29,203.69 L650.73,205.34 L651.17,207.32 L651.61,209.61 L652.05,212.18 L652.50,215.00 L652.94,218.06 L653.38,221.31 L653.82,224.72 L654.27,228.26 L654.71,231.89 L655.15,235.57 L655.59,239.26 L656.03,242.93 L656.48,246.54 L656.92,250.04 L657.36,253.41 L657.80,256.60 L658.24,259.59 L658.69,262.34 L659.13,264.83 L659.57,267.02 L660.01,268.90 L660.45,270.45 L660.90,271.65 L661.34,272.48 L661.78,272.95 L662.22,273.04 L662.66,272.75 L663.11,272.09 L663.55,271.06 L663.99,269.67 L664.43,267.95 L664.87,265.90 L665.32,263.54 L665.76,260.91 L666.20,258.03 L666.64,254.93 L667.08,251.64 L667.53,248.19 L667.97,244.63 L668.41,240.99 L668.85,237.30 L669.30,233.61 L669.74,229.96 L670.18,226.37 L670.62,222.89 L671.06,219.56 L671.51,216.41 L671.95,213.47 L672.39,210.78 L672.83,208.36 L673.27,206.23 L673.72,204.42 L674.16,202.95 L674.60,201.83" fill="none" stroke="#111" stroke-width="1.6" stroke-linecap="round"/>
<path d="M365.59,200.18 L367.03,200.47 L368.47,200.90 L369.18,203.06 L369.90,205.93 L370.62,211.68 L371.34,217.43 L372.06,224.61 L372.78,233.23 L373.49,243.29 L374.21,249.03 L374.93,250.47 L375.65,253.34 L376.37,256.22 L377.09,260.53 L377.80,267.71 L378.52,272.74 L379.24,270.59 L379.96,263.40 L380.68,259.81 L381.40,261.97 L382.11,260.53 L382.83,261.97 L383.55,259.09 L384.27,250.47 L384.99,240.41 L385.71,238.98 L386.43,241.85 L387.14,240.41 L387.57,233.23 L388.15,226.05 L388.72,220.30 L389.30,215.99 L389.87,218.14 L390.45,218.86 L391.02,217.43 L391.60,211.68 L392.17,205.93 L392.89,202.34 L393.61,200.90 L394.33,200.18 L395.05,200.90 L395.76,204.49 L396.20,208.80 L396.63,211.68 L397.06,204.49 L397.63,203.06 L398.21,201.62 L398.78,204.49 L399.36,202.34 L400.07,203.06 L400.79,202.34 L401.51,203.78 L402.23,203.06 L402.95,204.49 L403.67,207.37 L404.39,213.11 L405.10,218.86 L405.82,224.61 L406.54,226.05 L407.26,227.48 L407.98,228.92 L408.70,227.48 L409.41,221.74 L410.13,214.55 L410.85,208.80 L411.57,204.49 L412.31,202.34 L413.03,200.90 L413.75,200.18 L414.47,202.34 L415.18,205.21 L415.90,203.06 L416.62,204.49 L417.34,208.80 L417.77,214.55 L418.34,223.17 L418.92,225.33 L419.49,226.05 L419.93,233.23 L420.36,243.29 L420.93,253.34 L421.65,259.09 L422.37,264.84 L423.09,267.71 L423.80,263.40 L424.38,260.53 L424.95,261.97 L425.53,267.71 L426.10,270.59 L426.68,272.74 L427.25,267.71 L427.83,261.97 L428.40,257.66 L428.98,256.22 L429.55,254.78 L430.13,256.22 L430.70,260.53 L431.28,257.66 L431.85,259.09 L432.43,261.97 L433.14,267.71 L433.86,271.30 L434.58,269.15 L435.30,266.28 L436.02,263.40 L436.74,260.53 L437.45,256.22 L438.17,251.91 L438.89,249.75 L439.61,250.47 L440.33,253.34 L441.05,257.66 L441.76,250.47 L442.48,246.88 L443.20,249.03 L443.92,247.60 L444.64,246.16 L445.36,244.72 L446.07,243.29 L446.79,241.85 L447.51,244.01 L448.23,240.41 L448.95,233.23 L449.67,224.61 L450.39,215.99 L451.10,211.68 L451.82,213.11 L452.54,221.74 L453.26,227.48 L453.98,233.23 L454.70,236.10 L455.41,233.95 L456.13,235.39 L456.85,240.41 L457.57,253.34 L457.87,253.34 L458.59,257.66 L459.31,260.53 L460.03,260.53 L460.75,256.22 L461.47,247.60 L462.18,244.72 L462.90,246.16 L463.33,250.47 L463.91,257.66 L464.34,259.09 L464.77,250.47 L465.34,240.41 L465.92,236.10 L466.49,237.54 L467.21,233.23 L467.93,226.05 L468.65,215.99 L469.08,211.68 L469.51,221.74 L470.09,228.92 L470.80,236.10 L471.52,243.29 L472.24,244.72 L472.96,233.23 L473.68,218.86 L474.40,209.52 L475.11,208.80 L475.83,209.52 L476.55,205.93 L477.27,202.34 L477.99,203.06 L478.71,204.49 L479.43,203.78 L480.14,204.49 L480.86,203.06 L481.58,205.21 L482.30,200.90 L483.02,201.62 L483.74,205.93 L484.45,204.49 L485.17,203.06 L485.89,201.62 L486.61,200.90 L487.33,203.06 L488.05,205.93 L488.76,211.68 L489.48,218.86 L490.20,224.61 L490.92,228.92 L491.64,226.05 L492.36,230.36 L493.07,228.92 L493.79,221.74 L494.51,211.68 L495.23,207.37 L495.95,204.49 L496.67,201.62 L497.39,200.18 L498.10,203.06 L498.82,204.49 L499.54,208.80 L500.26,211.68 L500.98,215.99 L501.70,208.80 L502.41,207.37 L503.13,210.24 L503.85,213.11 L504.57,214.55 L504.87,228.92 L505.59,238.98 L506.31,241.85 L507.03,254.78 L507.46,256.22 L508.03,244.72 L508.61,246.16 L509.18,250.47 L509.90,259.09 L510.62,266.28 L511.34,267.71 L512.06,272.02 L512.78,269.87 L513.49,269.15 L514.21,270.59 L514.93,271.30 L515.65,272.02 L516.37,272.74 L517.09,272.74 L517.80,272.74 L518.52,272.02 L519.24,272.02 L519.96,270.59 L520.68,266.28 L521.40,257.66 L522.11,250.47 L522.83,238.98 L523.26,254.78 L523.84,257.66 L524.41,251.91 L524.99,253.34 L525.71,259.09 L526.43,267.71 L527.14,270.59 L527.86,266.28 L528.58,260.53 L529.30,256.22 L530.02,253.34 L530.74,254.78 L531.45,251.91 L532.17,253.34 L532.89,249.03 L533.61,247.60 L534.33,250.47 L535.05,249.75 L535.76,247.60 L536.48,236.10 L537.20,230.36 L537.92,228.92 L538.64,230.36 L539.36,223.17 L539.93,231.79 L540.51,241.85 L541.08,237.54 L541.66,234.67 L542.23,236.10 L542.95,250.47 L543.67,253.34 L544.39,244.72 L545.10,236.10 L545.82,227.48 L546.54,224.61 L547.26,226.05 L547.98,224.61 L548.70,213.11 L549.41,204.49 L550.13,204.49 L550.85,205.21 L551.57,205.21 L551.87,203.06 L552.59,201.62 L553.31,200.90 L554.03,200.90 L554.75,201.62 L555.47,204.49 L556.18,206.65 L556.90,207.37 L557.62,210.24 L558.34,207.37 L559.06,204.49 L559.49,208.80 L560.06,210.24 L560.78,213.11 L561.36,215.99 L561.93,220.30 L562.65,214.55 L563.37,210.24 L564.09,211.68 L564.80,214.55 L565.52,218.14 L566.24,214.55 L566.96,207.37 L567.68,203.78 L568.40,205.21 L569.11,203.06 L569.83,201.62 L570.55,204.49 L571.27,207.37 L571.99,205.21 L572.71,204.49 L573.43,205.21 L574.14,205.93 L574.86,208.80 L575.58,217.43 L576.30,228.92 L577.02,231.79 L577.74,233.23 L578.45,237.54 L579.17,243.29 L579.60,247.60 L580.03,240.41 L580.61,237.54 L581.33,241.85 L582.05,237.54 L582.62,240.41 L583.20,246.16 L583.77,250.47 L584.34,254.78 L584.92,260.53 L585.64,267.71 L586.36,272.02 L587.07,272.74 L587.79,273.46 L588.51,273.46 L589.23,272.74 L589.95,272.02 L590.67,270.59 L591.39,266.28 L592.10,260.53 L592.82,256.22 L593.25,264.84 L593.83,261.97 L594.40,260.53 L594.98,263.40 L595.70,261.25 L596.41,261.97 L597.13,263.40 L597.85,260.53 L598.43,244.72 L599.02,246.16 L599.60,244.01 L600.17,241.85 L600.75,231.79 L601.32,223.17 L601.90,223.89 L602.47,227.48 L603.05,231.79 L603.62,228.92 L604.20,233.23 L604.77,236.10 L605.34,241.85 L605.92,234.67 L606.49,227.48 L607.07,230.36 L607.64,238.98 L608.22,233.23 L608.79,231.79 L609.37,230.36 L609.80,221.74 L610.23,214.55 L610.80,210.24 L611.38,207.37 L611.95,210.24 L612.53,206.65 L613.10,204.49 L613.68,202.34 L614.40,201.62 L615.11,200.90 L615.83,200.90 L616.55,203.06 L617.27,205.93 L617.99,208.80 L618.71,214.55 L619.14,227.48 L619.71,236.10 L620.29,244.72 L620.86,246.16 L621.44,247.60 L622.01,254.78 L622.59,264.84 L623.16,270.59 L623.74,271.30 L624.45,269.15 L625.17,264.84 L625.89,256.22 L626.61,251.91 L627.33,250.47 L628.05,249.03 L628.76,244.72 L629.20,234.67 L629.63,231.79 L630.06,247.60 L630.63,251.91 L631.21,250.47 L631.78,240.41 L632.36,230.36 L633.07,221.74 L633.79,214.55 L634.22,211.68 L634.66,217.43 L635.23,221.74 L635.80,215.99 L636.38,218.86 L636.95,228.92 L637.53,234.67 L638.10,237.54 L638.82,228.92 L639.54,227.48 L640.26,226.05 L640.98,227.48 L641.70,221.74 L642.41,218.86 L643.13,220.30 L643.85,228.92 L644.57,236.10 L645.03,240.44 L645.75,243.32 L646.47,240.44 L647.19,240.44 L647.91,233.25 L648.63,227.50 L649.34,226.06 L650.06,223.19 L650.78,220.31 L651.50,216.00 L652.22,211.69 L652.94,210.25 L653.66,207.38 L654.09,208.81 L654.52,211.69 L655.09,210.97 L655.81,211.69 L656.53,213.13 L657.25,214.56 L657.97,216.00 L658.69,210.25 L659.41,207.38 L660.13,206.66 L660.85,208.81 L661.56,217.44 L662.28,226.06 L663.00,233.25 L663.72,234.69 L664.44,231.82 L665.16,221.75 L665.88,208.81 L666.60,203.06 L667.31,200.91 L668.03,200.19 L668.75,201.63 L669.47,204.50 L670.19,214.56 L670.91,228.94 L671.63,240.44 L672.35,246.19 L673.06,247.63 L673.50,244.75 L673.93,243.32 L674.22,253.38 L674.50,266.32" fill="none" stroke="#28a23a" stroke-width="1.5" stroke-linejoin="round"/>
<text x="520" y="314.2" font-size="14" text-anchor="middle">Time (s)</text>
<line x1="601.2" y1="309.7" x2="619.2" y2="309.7" stroke="#444" stroke-width="1.2"/>
<text x="625.2" y="314.2" font-size="14">S</text>
<line x1="644.6" y1="309.7" x2="662" y2="309.7" stroke="#5cc46e" stroke-width="1.2"/>
<text x="669.2" y="314.2" font-size="14">A</text>
<path d="M60.30,437.60 L61.05,437.29 L61.80,436.99 L62.55,436.68 L63.30,436.37 L64.04,436.07 L64.79,435.76 L65.54,435.45 L66.29,435.15 L67.04,434.84 L67.79,434.53 L68.54,434.22 L69.29,433.92 L70.03,433.61 L70.78,433.30 L71.53,432.99 L72.28,432.68 L73.03,432.37 L73.78,432.06 L74.53,431.75 L75.28,431.43 L76.03,431.12 L76.77,430.81 L77.52,430.49 L78.27,430.18 L79.02,429.86 L79.77,429.55 L80.52,429.23 L81.27,428.91 L82.02,428.59 L82.76,428.27 L83.51,427.95 L84.26,427.63 L85.01,427.31 L85.76,426.98 L86.51,426.66 L87.26,426.33 L88.01,426.01 L88.76,425.68 L89.50,425.35 L90.25,425.02 L91.00,424.69 L91.75,424.35 L92.50,424.02 L93.25,423.69 L94.00,423.35 L94.75,423.01 L95.49,422.67 L96.24,422.33 L96.99,421.99 L97.74,421.65 L98.49,421.31 L99.24,420.96 L99.99,420.62 L100.74,420.28 L101.49,419.93 L102.23,419.58 L102.98,419.24 L103.73,418.89 L104.48,418.54 L105.23,418.19 L105.98,417.85 L106.73,417.50 L107.48,417.15 L108.23,416.80 L108.97,416.45 L109.72,416.10 L110.47,415.75 L111.22,415.40 L111.97,415.05 L112.72,414.70 L113.47,414.35 L114.22,414.00 L114.96,413.65 L115.71,413.30 L116.46,412.96 L117.21,412.61 L117.96,412.26 L118.71,411.91 L119.46,411.57 L120.21,411.22 L120.96,410.87 L121.70,410.53 L122.45,410.18 L123.20,409.84 L123.95,409.50 L124.70,409.15 L125.45,408.81 L126.20,408.47 L126.95,408.13 L127.69,407.80 L128.44,407.46 L129.19,407.12 L129.94,406.79 L130.69,406.46 L131.44,406.13 L132.19,405.80 L132.94,405.48 L133.69,405.15 L134.43,404.83 L135.18,404.51 L135.93,404.19 L136.68,403.88 L137.43,403.57 L138.18,403.26 L138.93,402.96 L139.68,402.65 L140.42,402.36 L141.17,402.06 L141.92,401.77 L142.67,401.48 L143.42,401.20 L144.17,400.92 L144.92,400.64 L145.67,400.37 L146.42,400.10 L147.16,399.83 L147.91,399.57 L148.66,399.32 L149.41,399.07 L150.16,398.82 L150.91,398.58 L151.66,398.34 L152.41,398.11 L153.15,397.89 L153.90,397.67 L154.65,397.45 L155.40,397.24 L156.15,397.04 L156.90,396.84 L157.65,396.65 L158.40,396.47 L159.15,396.29 L159.89,396.11 L160.64,395.95 L161.39,395.79 L162.14,395.63 L162.89,395.49 L163.64,395.35 L164.39,395.21 L165.14,395.09 L165.88,394.97 L166.63,394.86 L167.38,394.75 L168.13,394.66 L168.88,394.57 L169.63,394.49 L170.38,394.41 L171.13,394.35 L171.88,394.29 L172.62,394.24 L173.37,394.20 L174.12,394.17 L174.87,394.14 L175.62,394.13 L176.37,394.12 L177.12,394.13 L177.87,394.14 L178.62,394.16 L179.36,394.19 L180.11,394.23 L180.86,394.28 L181.61,394.34 L182.36,394.40 L183.11,394.48 L183.86,394.57 L184.61,394.67 L185.35,394.78 L186.10,394.89 L186.85,395.02 L187.60,395.16 L188.35,395.31 L189.10,395.47 L189.85,395.64 L190.60,395.83 L191.35,396.02 L192.09,396.23 L192.84,396.45 L193.59,396.68 L194.34,396.93 L195.09,397.19 L195.84,397.47 L196.59,397.76 L197.34,398.06 L198.08,398.38 L198.83,398.72 L199.58,399.07 L200.33,399.44 L201.08,399.83 L201.83,400.23 L202.58,400.65 L203.33,401.09 L204.08,401.55 L204.82,402.02 L205.57,402.52 L206.32,403.03 L207.07,403.56 L207.82,404.12 L208.57,404.69 L209.32,405.29 L210.07,405.91 L210.81,406.55 L211.56,407.21 L212.31,407.89 L213.06,408.60 L213.81,409.33 L214.56,410.08 L215.31,410.86 L216.06,411.66 L216.81,412.49 L217.55,413.34 L218.30,414.22 L219.05,415.12 L219.80,416.05 L220.55,417.00 L221.30,417.99 L222.05,419.00 L222.80,420.03 L223.54,421.09 L224.29,422.18 L225.04,423.29 L225.79,424.42 L226.54,425.57 L227.29,426.75 L228.04,427.94 L228.79,429.16 L229.54,430.40 L230.28,431.65 L231.03,432.93 L231.78,434.22 L232.53,435.53 L233.28,436.86 L234.03,438.20 L234.78,439.55 L235.53,440.92 L236.27,442.31 L237.02,443.70 L237.77,445.11 L238.52,446.53 L239.27,447.96 L240.02,449.40 L240.77,450.86 L241.52,452.32 L242.27,453.78 L243.01,455.26 L243.76,456.74 L244.51,458.23 L245.26,459.72 L246.01,461.22 L246.76,462.72 L247.51,464.23 L248.26,465.74 L249.01,467.25 L249.75,468.76 L250.50,470.27 L251.25,471.79 L252.00,473.30 L252.75,474.81 L253.50,476.32 L254.25,477.82 L255.00,479.33 L255.74,480.83 L256.49,482.34 L257.24,483.84 L257.99,485.34 L258.74,486.84 L259.49,488.34 L260.24,489.83 L260.99,491.33 L261.74,492.82 L262.48,494.31 L263.23,495.81 L263.98,497.30 L264.73,498.79 L265.48,500.28 L266.23,501.77 L266.98,503.25 L267.73,504.74 L268.47,506.22 L269.22,507.71 L269.97,509.19 L270.72,510.68 L271.47,512.16 L272.22,513.64 L272.97,515.12 L273.72,516.60 L274.47,518.08 L275.21,519.56 L275.96,521.04 L276.71,522.52 L277.46,524.00 L278.21,525.48 L278.96,526.96 L279.71,528.44 L280.46,529.91 L281.20,531.39 L281.95,532.87 L282.70,534.35 L283.45,535.82 L284.20,537.30" fill="none" stroke="#7878e2" stroke-width="2.8"/>
<circle cx="60.30" cy="437.60" r="3.6" fill="#3e3ed0"/>
<circle cx="91.20" cy="424.60" r="3.6" fill="#3e3ed0"/>
<circle cx="124.60" cy="409.20" r="3.6" fill="#3e3ed0"/>
<circle cx="156.30" cy="397.00" r="3.6" fill="#3e3ed0"/>
<circle cx="187.80" cy="395.20" r="3.6" fill="#3e3ed0"/>
<circle cx="220.70" cy="417.20" r="3.6" fill="#3e3ed0"/>
<circle cx="252.20" cy="473.70" r="3.6" fill="#3e3ed0"/>
<circle cx="284.20" cy="537.30" r="3.6" fill="#3e3ed0"/>
<path d="M60.30,427.40 L61.05,427.02 L61.80,426.65 L62.55,426.27 L63.30,425.89 L64.04,425.51 L64.79,425.13 L65.54,424.76 L66.29,424.38 L67.04,424.00 L67.79,423.62 L68.54,423.24 L69.29,422.86 L70.03,422.48 L70.78,422.10 L71.53,421.72 L72.28,421.34 L73.03,420.95 L73.78,420.57 L74.53,420.19 L75.28,419.80 L76.03,419.42 L76.77,419.03 L77.52,418.65 L78.27,418.26 L79.02,417.87 L79.77,417.48 L80.52,417.09 L81.27,416.70 L82.02,416.31 L82.76,415.91 L83.51,415.52 L84.26,415.12 L85.01,414.73 L85.76,414.33 L86.51,413.93 L87.26,413.53 L88.01,413.13 L88.76,412.73 L89.50,412.32 L90.25,411.92 L91.00,411.51 L91.75,411.10 L92.50,410.69 L93.25,410.28 L94.00,409.86 L94.75,409.45 L95.49,409.03 L96.24,408.62 L96.99,408.20 L97.74,407.78 L98.49,407.36 L99.24,406.94 L99.99,406.52 L100.74,406.09 L101.49,405.67 L102.23,405.25 L102.98,404.82 L103.73,404.40 L104.48,403.97 L105.23,403.54 L105.98,403.11 L106.73,402.69 L107.48,402.26 L108.23,401.83 L108.97,401.40 L109.72,400.97 L110.47,400.54 L111.22,400.12 L111.97,399.69 L112.72,399.26 L113.47,398.83 L114.22,398.40 L114.96,397.97 L115.71,397.54 L116.46,397.12 L117.21,396.69 L117.96,396.26 L118.71,395.83 L119.46,395.41 L120.21,394.98 L120.96,394.56 L121.70,394.13 L122.45,393.71 L123.20,393.29 L123.95,392.87 L124.70,392.44 L125.45,392.02 L126.20,391.61 L126.95,391.19 L127.69,390.77 L128.44,390.36 L129.19,389.94 L129.94,389.53 L130.69,389.12 L131.44,388.72 L132.19,388.31 L132.94,387.91 L133.69,387.51 L134.43,387.11 L135.18,386.72 L135.93,386.33 L136.68,385.94 L137.43,385.55 L138.18,385.17 L138.93,384.79 L139.68,384.42 L140.42,384.05 L141.17,383.68 L141.92,383.32 L142.67,382.96 L143.42,382.60 L144.17,382.25 L144.92,381.90 L145.67,381.56 L146.42,381.23 L147.16,380.89 L147.91,380.57 L148.66,380.25 L149.41,379.93 L150.16,379.62 L150.91,379.32 L151.66,379.02 L152.41,378.72 L153.15,378.44 L153.90,378.16 L154.65,377.88 L155.40,377.61 L156.15,377.35 L156.90,377.10 L157.65,376.85 L158.40,376.61 L159.15,376.37 L159.89,376.15 L160.64,375.93 L161.39,375.71 L162.14,375.51 L162.89,375.31 L163.64,375.12 L164.39,374.93 L165.14,374.75 L165.88,374.58 L166.63,374.42 L167.38,374.27 L168.13,374.12 L168.88,373.98 L169.63,373.85 L170.38,373.72 L171.13,373.61 L171.88,373.50 L172.62,373.40 L173.37,373.30 L174.12,373.22 L174.87,373.14 L175.62,373.07 L176.37,373.01 L177.12,372.95 L177.87,372.91 L178.62,372.87 L179.36,372.84 L180.11,372.82 L180.86,372.81 L181.61,372.80 L182.36,372.81 L183.11,372.82 L183.86,372.84 L184.61,372.87 L185.35,372.91 L186.10,372.96 L186.85,373.02 L187.60,373.08 L188.35,373.16 L189.10,373.24 L189.85,373.33 L190.60,373.44 L191.35,373.55 L192.09,373.68 L192.84,373.82 L193.59,373.97 L194.34,374.14 L195.09,374.32 L195.84,374.52 L196.59,374.73 L197.34,374.96 L198.08,375.21 L198.83,375.47 L199.58,375.75 L200.33,376.06 L201.08,376.38 L201.83,376.72 L202.58,377.08 L203.33,377.47 L204.08,377.88 L204.82,378.31 L205.57,378.76 L206.32,379.24 L207.07,379.75 L207.82,380.28 L208.57,380.84 L209.32,381.42 L210.07,382.03 L210.81,382.67 L211.56,383.34 L212.31,384.04 L213.06,384.77 L213.81,385.53 L214.56,386.32 L215.31,387.15 L216.06,388.01 L216.81,388.90 L217.55,389.82 L218.30,390.78 L219.05,391.78 L219.80,392.81 L220.55,393.88 L221.30,394.99 L222.05,396.13 L222.80,397.31 L223.54,398.53 L224.29,399.77 L225.04,401.06 L225.79,402.37 L226.54,403.71 L227.29,405.09 L228.04,406.49 L228.79,407.92 L229.54,409.38 L230.28,410.86 L231.03,412.37 L231.78,413.91 L232.53,415.46 L233.28,417.04 L234.03,418.64 L234.78,420.25 L235.53,421.89 L236.27,423.55 L237.02,425.22 L237.77,426.90 L238.52,428.61 L239.27,430.32 L240.02,432.05 L240.77,433.79 L241.52,435.54 L242.27,437.30 L243.01,439.07 L243.76,440.85 L244.51,442.63 L245.26,444.42 L246.01,446.22 L246.76,448.02 L247.51,449.82 L248.26,451.62 L249.01,453.42 L249.75,455.23 L250.50,457.03 L251.25,458.83 L252.00,460.62 L252.75,462.41 L253.50,464.20 L254.25,465.98 L255.00,467.76 L255.74,469.54 L256.49,471.31 L257.24,473.07 L257.99,474.83 L258.74,476.59 L259.49,478.35 L260.24,480.10 L260.99,481.85 L261.74,483.59 L262.48,485.33 L263.23,487.07 L263.98,488.80 L264.73,490.54 L265.48,492.27 L266.23,493.99 L266.98,495.72 L267.73,497.44 L268.47,499.16 L269.22,500.87 L269.97,502.59 L270.72,504.30 L271.47,506.01 L272.22,507.72 L272.97,509.43 L273.72,511.13 L274.47,512.84 L275.21,514.54 L275.96,516.24 L276.71,517.94 L277.46,519.64 L278.21,521.34 L278.96,523.03 L279.71,524.73 L280.46,526.43 L281.20,528.12 L281.95,529.82 L282.70,531.51 L283.45,533.21 L284.20,534.90" fill="none" stroke="#e27878" stroke-width="2.8"/>
<circle cx="60.30" cy="427.40" r="3.6" fill="#cc3c40"/>
<circle cx="91.20" cy="411.40" r="3.6" fill="#cc3c40"/>
<circle cx="124.60" cy="392.50" r="3.6" fill="#cc3c40"/>
<circle cx="156.30" cy="377.30" r="3.6" fill="#cc3c40"/>
<circle cx="187.80" cy="373.10" r="3.6" fill="#cc3c40"/>
<circle cx="220.70" cy="394.10" r="3.6" fill="#cc3c40"/>
<circle cx="252.20" cy="461.10" r="3.6" fill="#cc3c40"/>
<circle cx="284.20" cy="534.90" r="3.6" fill="#cc3c40"/>
<line x1="49.2" y1="369.0" x2="49.2" y2="552.1" stroke="#555" stroke-width="1.4"/>
<line x1="48.5" y1="552.1" x2="289.6" y2="552.1" stroke="#555" stroke-width="1.4"/>
<line x1="49.2" y1="551.50" x2="52.7" y2="551.50" stroke="#333" stroke-width="1.2"/>
<text x="42.900000000000006" y="556.50" font-size="14" text-anchor="end">0.3</text>
<line x1="49.2" y1="515.10" x2="52.7" y2="515.10" stroke="#333" stroke-width="1.2"/>
<text x="42.900000000000006" y="520.10" font-size="14" text-anchor="end">0.4</text>
<line x1="49.2" y1="478.70" x2="52.7" y2="478.70" stroke="#333" stroke-width="1.2"/>
<text x="42.900000000000006" y="483.70" font-size="14" text-anchor="end">0.5</text>
<line x1="49.2" y1="442.30" x2="52.7" y2="442.30" stroke="#333" stroke-width="1.2"/>
<text x="42.900000000000006" y="447.30" font-size="14" text-anchor="end">0.6</text>
<line x1="49.2" y1="405.90" x2="52.7" y2="405.90" stroke="#333" stroke-width="1.2"/>
<text x="42.900000000000006" y="410.90" font-size="14" text-anchor="end">0.7</text>
<line x1="49.2" y1="369.50" x2="52.7" y2="369.50" stroke="#333" stroke-width="1.2"/>
<text x="42.900000000000006" y="374.50" font-size="14" text-anchor="end">0.8</text>
<line x1="70.69" y1="552.1" x2="70.69" y2="548.6" stroke="#333" stroke-width="1.2"/>
<text x="70.69" y="568.60" font-size="14" text-anchor="middle">0.6</text>
<line x1="129.30" y1="552.1" x2="129.30" y2="548.6" stroke="#333" stroke-width="1.2"/>
<text x="129.30" y="568.60" font-size="14" text-anchor="middle">1</text>
<line x1="190.18" y1="552.1" x2="190.18" y2="548.6" stroke="#333" stroke-width="1.2"/>
<text x="190.18" y="568.60" font-size="14" text-anchor="middle">1.7</text>
<line x1="251.47" y1="552.1" x2="251.47" y2="548.6" stroke="#333" stroke-width="1.2"/>
<text x="251.47" y="568.60" font-size="14" text-anchor="middle">2.9</text>
<line x1="282.48" y1="552.1" x2="282.48" y2="548.6" stroke="#333" stroke-width="1.2"/>
<text x="282.48" y="568.60" font-size="14" text-anchor="middle">3.8</text>
<line x1="88.37" y1="552.1" x2="88.37" y2="550.1" stroke="#333" stroke-width="1"/>
<line x1="103.70" y1="552.1" x2="103.70" y2="550.1" stroke="#333" stroke-width="1"/>
<line x1="117.21" y1="552.1" x2="117.21" y2="550.1" stroke="#333" stroke-width="1"/>
<line x1="208.83" y1="552.1" x2="208.83" y2="550.1" stroke="#333" stroke-width="1"/>
<line x1="255.36" y1="552.1" x2="255.36" y2="550.1" stroke="#333" stroke-width="1"/>
<line x1="288.36" y1="552.1" x2="288.36" y2="550.1" stroke="#333" stroke-width="1"/>
<text x="169.5" y="359.2" font-size="14" text-anchor="middle">Auditory</text>
<text transform="translate(9.9,461.6) rotate(-90)" font-size="13.6" text-anchor="middle">PLV<tspan font-size="9.5" dy="3.3">S-A</tspan></text>
<text x="169.3" y="588.5" font-size="14" text-anchor="middle">Beat frequency (Hz)</text>
<path d="M379.90,396.00 L380.65,395.91 L381.41,395.81 L382.16,395.72 L382.92,395.63 L383.67,395.54 L384.43,395.44 L385.18,395.35 L385.94,395.26 L386.69,395.17 L387.45,395.08 L388.20,394.99 L388.95,394.90 L389.71,394.81 L390.46,394.72 L391.22,394.63 L391.97,394.54 L392.73,394.46 L393.48,394.37 L394.24,394.29 L394.99,394.20 L395.74,394.12 L396.50,394.03 L397.25,393.95 L398.01,393.87 L398.76,393.79 L399.52,393.71 L400.27,393.63 L401.03,393.56 L401.78,393.48 L402.54,393.41 L403.29,393.34 L404.04,393.26 L404.80,393.19 L405.55,393.12 L406.31,393.06 L407.06,392.99 L407.82,392.93 L408.57,392.86 L409.33,392.80 L410.08,392.74 L410.84,392.69 L411.59,392.63 L412.34,392.58 L413.10,392.52 L413.85,392.47 L414.61,392.42 L415.36,392.38 L416.12,392.33 L416.87,392.29 L417.63,392.25 L418.38,392.21 L419.13,392.18 L419.89,392.14 L420.64,392.11 L421.40,392.08 L422.15,392.05 L422.91,392.03 L423.66,392.01 L424.42,391.99 L425.17,391.97 L425.93,391.96 L426.68,391.94 L427.43,391.93 L428.19,391.93 L428.94,391.92 L429.70,391.92 L430.45,391.92 L431.21,391.93 L431.96,391.94 L432.72,391.95 L433.47,391.96 L434.23,391.98 L434.98,392.00 L435.73,392.02 L436.49,392.05 L437.24,392.07 L438.00,392.11 L438.75,392.14 L439.51,392.18 L440.26,392.22 L441.02,392.27 L441.77,392.32 L442.52,392.38 L443.28,392.43 L444.03,392.50 L444.79,392.56 L445.54,392.63 L446.30,392.71 L447.05,392.79 L447.81,392.87 L448.56,392.96 L449.32,393.05 L450.07,393.15 L450.82,393.25 L451.58,393.36 L452.33,393.47 L453.09,393.58 L453.84,393.70 L454.60,393.83 L455.35,393.96 L456.11,394.10 L456.86,394.24 L457.62,394.39 L458.37,394.54 L459.12,394.70 L459.88,394.86 L460.63,395.04 L461.39,395.21 L462.14,395.39 L462.90,395.58 L463.65,395.77 L464.41,395.97 L465.16,396.18 L465.91,396.39 L466.67,396.61 L467.42,396.84 L468.18,397.07 L468.93,397.31 L469.69,397.56 L470.44,397.82 L471.20,398.08 L471.95,398.35 L472.71,398.63 L473.46,398.92 L474.21,399.22 L474.97,399.52 L475.72,399.84 L476.48,400.16 L477.23,400.50 L477.99,400.84 L478.74,401.20 L479.50,401.56 L480.25,401.94 L481.01,402.32 L481.76,402.72 L482.51,403.13 L483.27,403.55 L484.02,403.98 L484.78,404.42 L485.53,404.88 L486.29,405.34 L487.04,405.82 L487.80,406.31 L488.55,406.82 L489.30,407.34 L490.06,407.87 L490.81,408.41 L491.57,408.97 L492.32,409.54 L493.08,410.13 L493.83,410.73 L494.59,411.34 L495.34,411.97 L496.10,412.61 L496.85,413.26 L497.60,413.93 L498.36,414.61 L499.11,415.30 L499.87,416.01 L500.62,416.72 L501.38,417.45 L502.13,418.19 L502.89,418.95 L503.64,419.71 L504.39,420.49 L505.15,421.28 L505.90,422.07 L506.66,422.88 L507.41,423.70 L508.17,424.53 L508.92,425.38 L509.68,426.23 L510.43,427.09 L511.19,427.96 L511.94,428.84 L512.69,429.73 L513.45,430.63 L514.20,431.53 L514.96,432.45 L515.71,433.38 L516.47,434.31 L517.22,435.25 L517.98,436.20 L518.73,437.16 L519.49,438.13 L520.24,439.10 L520.99,440.08 L521.75,441.07 L522.50,442.07 L523.26,443.07 L524.01,444.07 L524.77,445.08 L525.52,446.10 L526.28,447.12 L527.03,448.14 L527.78,449.16 L528.54,450.19 L529.29,451.21 L530.05,452.24 L530.80,453.27 L531.56,454.29 L532.31,455.32 L533.07,456.34 L533.82,457.36 L534.58,458.38 L535.33,459.40 L536.08,460.41 L536.84,461.41 L537.59,462.41 L538.35,463.41 L539.10,464.40 L539.86,465.38 L540.61,466.35 L541.37,467.32 L542.12,468.27 L542.88,469.22 L543.63,470.16 L544.38,471.09 L545.14,472.00 L545.89,472.90 L546.65,473.80 L547.40,474.67 L548.16,475.54 L548.91,476.39 L549.67,477.23 L550.42,478.05 L551.17,478.86 L551.93,479.65 L552.68,480.43 L553.44,481.20 L554.19,481.96 L554.95,482.71 L555.70,483.45 L556.46,484.18 L557.21,484.90 L557.97,485.61 L558.72,486.32 L559.47,487.01 L560.23,487.70 L560.98,488.39 L561.74,489.07 L562.49,489.75 L563.25,490.42 L564.00,491.09 L564.76,491.76 L565.51,492.42 L566.27,493.08 L567.02,493.75 L567.77,494.41 L568.53,495.07 L569.28,495.74 L570.04,496.40 L570.79,497.07 L571.55,497.74 L572.30,498.42 L573.06,499.10 L573.81,499.78 L574.56,500.47 L575.32,501.17 L576.07,501.87 L576.83,502.58 L577.58,503.30 L578.34,504.02 L579.09,504.76 L579.85,505.50 L580.60,506.25 L581.36,507.01 L582.11,507.78 L582.86,508.56 L583.62,509.34 L584.37,510.13 L585.13,510.92 L585.88,511.73 L586.64,512.54 L587.39,513.35 L588.15,514.17 L588.90,515.00 L589.66,515.83 L590.41,516.67 L591.16,517.51 L591.92,518.35 L592.67,519.21 L593.43,520.06 L594.18,520.92 L594.94,521.78 L595.69,522.65 L596.45,523.52 L597.20,524.39 L597.95,525.26 L598.71,526.14 L599.46,527.02 L600.22,527.90 L600.97,528.78 L601.73,529.67 L602.48,530.55 L603.24,531.44 L603.99,532.32 L604.75,533.21 L605.50,534.10" fill="none" stroke="#7878e2" stroke-width="2.8"/>
<circle cx="379.90" cy="396.00" r="3.6" fill="#3e3ed0"/>
<circle cx="435.10" cy="392.00" r="3.6" fill="#3e3ed0"/>
<circle cx="464.50" cy="396.00" r="3.6" fill="#3e3ed0"/>
<circle cx="492.40" cy="409.60" r="3.6" fill="#3e3ed0"/>
<circle cx="520.70" cy="439.70" r="3.6" fill="#3e3ed0"/>
<circle cx="549.10" cy="476.60" r="3.6" fill="#3e3ed0"/>
<circle cx="577.90" cy="503.60" r="3.6" fill="#3e3ed0"/>
<circle cx="605.50" cy="534.10" r="3.6" fill="#3e3ed0"/>
<path d="M379.90,390.40 L380.65,390.30 L381.41,390.20 L382.16,390.11 L382.92,390.01 L383.67,389.91 L384.43,389.81 L385.18,389.72 L385.94,389.62 L386.69,389.52 L387.45,389.43 L388.20,389.33 L388.95,389.24 L389.71,389.14 L390.46,389.05 L391.22,388.95 L391.97,388.86 L392.73,388.77 L393.48,388.68 L394.24,388.59 L394.99,388.50 L395.74,388.41 L396.50,388.32 L397.25,388.23 L398.01,388.14 L398.76,388.06 L399.52,387.97 L400.27,387.89 L401.03,387.81 L401.78,387.73 L402.54,387.65 L403.29,387.57 L404.04,387.49 L404.80,387.42 L405.55,387.34 L406.31,387.27 L407.06,387.20 L407.82,387.13 L408.57,387.06 L409.33,387.00 L410.08,386.93 L410.84,386.87 L411.59,386.81 L412.34,386.75 L413.10,386.69 L413.85,386.63 L414.61,386.58 L415.36,386.53 L416.12,386.48 L416.87,386.43 L417.63,386.38 L418.38,386.34 L419.13,386.30 L419.89,386.26 L420.64,386.22 L421.40,386.18 L422.15,386.15 L422.91,386.12 L423.66,386.09 L424.42,386.07 L425.17,386.05 L425.93,386.03 L426.68,386.01 L427.43,385.99 L428.19,385.98 L428.94,385.97 L429.70,385.96 L430.45,385.96 L431.21,385.96 L431.96,385.96 L432.72,385.97 L433.47,385.97 L434.23,385.98 L434.98,386.00 L435.73,386.01 L436.49,386.03 L437.24,386.06 L438.00,386.08 L438.75,386.11 L439.51,386.15 L440.26,386.18 L441.02,386.22 L441.77,386.27 L442.52,386.32 L443.28,386.37 L444.03,386.42 L444.79,386.48 L445.54,386.55 L446.30,386.62 L447.05,386.69 L447.81,386.76 L448.56,386.85 L449.32,386.93 L450.07,387.02 L450.82,387.11 L451.58,387.21 L452.33,387.32 L453.09,387.43 L453.84,387.54 L454.60,387.66 L455.35,387.78 L456.11,387.91 L456.86,388.04 L457.62,388.18 L458.37,388.32 L459.12,388.47 L459.88,388.63 L460.63,388.79 L461.39,388.95 L462.14,389.13 L462.90,389.30 L463.65,389.49 L464.41,389.68 L465.16,389.87 L465.91,390.07 L466.67,390.28 L467.42,390.51 L468.18,390.74 L468.93,390.98 L469.69,391.24 L470.44,391.52 L471.20,391.81 L471.95,392.12 L472.71,392.45 L473.46,392.80 L474.21,393.18 L474.97,393.58 L475.72,394.00 L476.48,394.45 L477.23,394.93 L477.99,395.44 L478.74,395.98 L479.50,396.56 L480.25,397.16 L481.01,397.81 L481.76,398.49 L482.51,399.21 L483.27,399.96 L484.02,400.76 L484.78,401.60 L485.53,402.49 L486.29,403.42 L487.04,404.39 L487.80,405.42 L488.55,406.49 L489.30,407.62 L490.06,408.80 L490.81,410.03 L491.57,411.32 L492.32,412.66 L493.08,414.06 L493.83,415.52 L494.59,417.03 L495.34,418.59 L496.10,420.20 L496.85,421.85 L497.60,423.55 L498.36,425.28 L499.11,427.06 L499.87,428.87 L500.62,430.71 L501.38,432.59 L502.13,434.49 L502.89,436.41 L503.64,438.36 L504.39,440.33 L505.15,442.31 L505.90,444.31 L506.66,446.32 L507.41,448.34 L508.17,450.37 L508.92,452.40 L509.68,454.43 L510.43,456.47 L511.19,458.49 L511.94,460.52 L512.69,462.53 L513.45,464.53 L514.20,466.52 L514.96,468.50 L515.71,470.45 L516.47,472.38 L517.22,474.29 L517.98,476.17 L518.73,478.02 L519.49,479.84 L520.24,481.63 L520.99,483.38 L521.75,485.09 L522.50,486.76 L523.26,488.39 L524.01,489.98 L524.77,491.53 L525.52,493.03 L526.28,494.50 L527.03,495.92 L527.78,497.30 L528.54,498.63 L529.29,499.92 L530.05,501.17 L530.80,502.37 L531.56,503.52 L532.31,504.62 L533.07,505.68 L533.82,506.69 L534.58,507.65 L535.33,508.56 L536.08,509.42 L536.84,510.23 L537.59,510.99 L538.35,511.70 L539.10,512.35 L539.86,512.95 L540.61,513.50 L541.37,513.99 L542.12,514.43 L542.88,514.82 L543.63,515.15 L544.38,515.42 L545.14,515.63 L545.89,515.79 L546.65,515.89 L547.40,515.93 L548.16,515.91 L548.91,515.83 L549.67,515.69 L550.42,515.49 L551.17,515.24 L551.93,514.93 L552.68,514.58 L553.44,514.18 L554.19,513.74 L554.95,513.27 L555.70,512.75 L556.46,512.21 L557.21,511.64 L557.97,511.04 L558.72,510.43 L559.47,509.79 L560.23,509.14 L560.98,508.48 L561.74,507.81 L562.49,507.13 L563.25,506.46 L564.00,505.78 L564.76,505.11 L565.51,504.45 L566.27,503.80 L567.02,503.17 L567.77,502.56 L568.53,501.97 L569.28,501.40 L570.04,500.86 L570.79,500.36 L571.55,499.89 L572.30,499.46 L573.06,499.07 L573.81,498.72 L574.56,498.43 L575.32,498.19 L576.07,498.00 L576.83,497.87 L577.58,497.81 L578.34,497.81 L579.09,497.87 L579.85,498.00 L580.60,498.20 L581.36,498.45 L582.11,498.76 L582.86,499.13 L583.62,499.55 L584.37,500.03 L585.13,500.56 L585.88,501.13 L586.64,501.76 L587.39,502.43 L588.15,503.14 L588.90,503.90 L589.66,504.70 L590.41,505.53 L591.16,506.40 L591.92,507.31 L592.67,508.25 L593.43,509.22 L594.18,510.22 L594.94,511.25 L595.69,512.30 L596.45,513.38 L597.20,514.48 L597.95,515.60 L598.71,516.74 L599.46,517.89 L600.22,519.06 L600.97,520.24 L601.73,521.44 L602.48,522.64 L603.24,523.85 L603.99,525.06 L604.75,526.28 L605.50,527.50" fill="none" stroke="#e27878" stroke-width="2.8"/>
<circle cx="379.90" cy="390.40" r="3.6" fill="#cc3c40"/>
<circle cx="435.10" cy="386.00" r="3.6" fill="#cc3c40"/>
<circle cx="464.50" cy="389.70" r="3.6" fill="#cc3c40"/>
<circle cx="492.40" cy="412.80" r="3.6" fill="#cc3c40"/>
<circle cx="520.70" cy="482.70" r="3.6" fill="#cc3c40"/>
<circle cx="549.10" cy="515.80" r="3.6" fill="#cc3c40"/>
<circle cx="577.90" cy="497.80" r="3.6" fill="#cc3c40"/>
<circle cx="605.50" cy="527.50" r="3.6" fill="#cc3c40"/>
<line x1="369.8" y1="368.0" x2="369.8" y2="552.3" stroke="#555" stroke-width="1.4"/>
<line x1="369.1" y1="552.3" x2="610.7" y2="552.3" stroke="#555" stroke-width="1.4"/>
<line x1="369.8" y1="552.50" x2="373.3" y2="552.50" stroke="#333" stroke-width="1.2"/>
<text x="363.5" y="557.50" font-size="14" text-anchor="end">0.2</text>
<line x1="369.8" y1="491.30" x2="373.3" y2="491.30" stroke="#333" stroke-width="1.2"/>
<text x="363.5" y="496.30" font-size="14" text-anchor="end">0.4</text>
<line x1="369.8" y1="430.10" x2="373.3" y2="430.10" stroke="#333" stroke-width="1.2"/>
<text x="363.5" y="435.10" font-size="14" text-anchor="end">0.6</text>
<line x1="369.8" y1="368.90" x2="373.3" y2="368.90" stroke="#333" stroke-width="1.2"/>
<text x="363.5" y="373.90" font-size="14" text-anchor="end">0.8</text>
<line x1="375.40" y1="552.3" x2="375.40" y2="548.8" stroke="#333" stroke-width="1.2"/>
<text x="375.40" y="568.80" font-size="14" text-anchor="middle">0.4</text>
<line x1="469.00" y1="552.3" x2="469.00" y2="548.8" stroke="#333" stroke-width="1.2"/>
<text x="469.00" y="568.80" font-size="14" text-anchor="middle">1</text>
<line x1="523.20" y1="552.3" x2="523.20" y2="548.8" stroke="#333" stroke-width="1.2"/>
<text x="523.20" y="568.80" font-size="14" text-anchor="middle">1.7</text>
<line x1="577.76" y1="552.3" x2="577.76" y2="548.8" stroke="#333" stroke-width="1.2"/>
<text x="577.76" y="568.80" font-size="14" text-anchor="middle">2.9</text>
<line x1="605.37" y1="552.3" x2="605.37" y2="548.8" stroke="#333" stroke-width="1.2"/>
<text x="605.37" y="568.80" font-size="14" text-anchor="middle">3.8</text>
<line x1="398.20" y1="552.3" x2="398.20" y2="550.3" stroke="#333" stroke-width="1"/>
<line x1="416.82" y1="552.3" x2="416.82" y2="550.3" stroke="#333" stroke-width="1"/>
<line x1="432.57" y1="552.3" x2="432.57" y2="550.3" stroke="#333" stroke-width="1"/>
<line x1="446.21" y1="552.3" x2="446.21" y2="550.3" stroke="#333" stroke-width="1"/>
<line x1="458.24" y1="552.3" x2="458.24" y2="550.3" stroke="#333" stroke-width="1"/>
<line x1="539.80" y1="552.3" x2="539.80" y2="550.3" stroke="#333" stroke-width="1"/>
<line x1="581.22" y1="552.3" x2="581.22" y2="550.3" stroke="#333" stroke-width="1"/>
<line x1="610.60" y1="552.3" x2="610.60" y2="550.3" stroke="#333" stroke-width="1"/>
<text x="491" y="359.2" font-size="14" text-anchor="middle">Visual</text>
<text transform="translate(331.1,461.1) rotate(-90)" font-size="13.6" text-anchor="middle">PLV<tspan font-size="9.5" dy="3.3">S-A</tspan></text>
<text x="490.5" y="588.5" font-size="14" text-anchor="middle">Beat frequency (Hz)</text>
<line x1="572" y1="394.7" x2="589.2" y2="394.7" stroke="#9a9ae8" stroke-width="1.5"/>
<text x="594.8" y="399.6" font-size="13.4">Passive</text>
<line x1="572" y1="411.9" x2="589.2" y2="411.9" stroke="#e08585" stroke-width="1.2"/>
<text x="594.8" y="417.0" font-size="13.4">Tracking</text>
</svg>
</body></html>
